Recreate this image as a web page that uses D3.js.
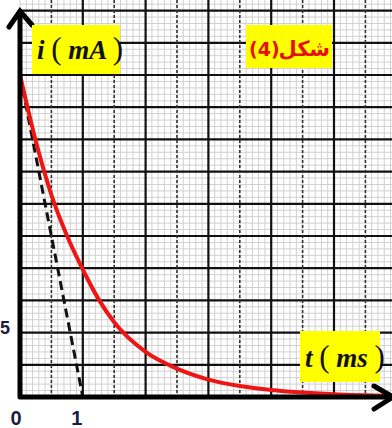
<!DOCTYPE html>
<html><head><meta charset="utf-8">
<script src="https://cdn.jsdelivr.net/npm/d3@7"></script>
<style>html,body{margin:0;padding:0;background:#fff;overflow:hidden}</style>
</head><body>
<svg id="c" width="392" height="428"></svg>
<script>
// Data
const tValues = [0, 0.25, 0.5, 0.75, 1, 1.25, 1.5, 2, 2.5, 3, 3.5, 4, 5, 5.92];
const iValues = [25, 19.9, 15.7, 12.5, 9.9, 7.6, 5.8, 3.5, 2.2, 1.35, 0.85, 0.55, 0.22, 0.1];
const tangentT = [0, 1];
const tangentI = [25, 0];
const xTickLabels = ["0", "1"];
const xTickValues = [0, 1];
const yTickLabels = ["5"];
const yTickValues = [5];

const W = 392, H = 428;
const x0 = 20, y0 = 397;
const x = d3.scaleLinear().domain([0, 1]).range([x0, 82.8]);
const y = d3.scaleLinear().domain([0, 2.5]).range([y0, 364.8]);
const tMax = x.invert(W), iMax = y.invert(0);

const svg = d3.select("#c");
const grid = svg.append("g");

// minor grid
d3.range(0, tMax, 0.1).forEach(t => {
  grid.append("line").attr("x1", x(t)).attr("x2", x(t)).attr("y1", 0).attr("y2", y0)
    .attr("stroke", "#d0d0d0").attr("stroke-width", 1);
});
d3.range(0, iMax, 0.5).forEach(v => {
  grid.append("line").attr("x1", x0).attr("x2", W).attr("y1", y(v)).attr("y2", y(v))
    .attr("stroke", "#d0d0d0").attr("stroke-width", 1);
});
// major horizontal lines every 2.5 mA
d3.range(2.5, iMax, 2.5).forEach(v => {
  grid.append("line").attr("x1", x0).attr("x2", W).attr("y1", y(v)).attr("y2", y(v))
    .attr("stroke", "#111").attr("stroke-width", 2.2);
});
// major vertical lines: solid at integer ms, dashed at half ms
d3.range(0.5, tMax, 0.5).forEach((t, k) => {
  const solid = (k % 2 === 1);
  grid.append("line").attr("x1", x(t)).attr("x2", x(t)).attr("y1", 0).attr("y2", y0)
    .attr("stroke", solid ? "#111" : "#333")
    .attr("stroke-width", solid ? 2.2 : 1.6)
    .attr("stroke-dasharray", solid ? null : "3,2");
});

// tangent dashed line
svg.append("path")
  .datum(tangentT.map((t, k) => [t, tangentI[k]]))
  .attr("d", d3.line().x(d => x(d[0])).y(d => y(d[1])))
  .attr("fill", "none").attr("stroke", "#111").attr("stroke-width", 3)
  .attr("stroke-dasharray", "9,5");

// red current curve
svg.append("path")
  .datum(tValues.map((t, k) => [t, iValues[k]]))
  .attr("d", d3.line().x(d => x(d[0])).y(d => y(d[1])).curve(d3.curveMonotoneX))
  .attr("fill", "none").attr("stroke", "#ee1515").attr("stroke-width", 4)
  .attr("stroke-linecap", "round");

// axes
svg.append("path")
  .attr("d", `M${x0},12 L${x0},${y0} L${W},${y0}`)
  .attr("fill", "none").attr("stroke", "#000").attr("stroke-width", 5)
  .attr("stroke-linejoin", "round");
// y arrowhead
svg.append("path").attr("d", `M${x0-11},27 L${x0},11 L${x0+12},25`)
  .attr("fill", "none").attr("stroke", "#000").attr("stroke-width", 5).attr("stroke-linecap", "round");
// x arrowhead
svg.append("path").attr("d", `M${W-18},${y0-11} L${W+1},${y0} L${W-18},${y0+12}`)
  .attr("fill", "none").attr("stroke", "#000").attr("stroke-width", 5).attr("stroke-linecap", "round");

// tick labels
const lblColor = "#1c1c44";
xTickValues.forEach((t, k) => {
  svg.append("text").attr("x", x(t) - (k === 0 ? 4 : 6)).attr("y", 425)
    .attr("text-anchor", "middle").attr("font-family", "Liberation Sans, Arial, sans-serif")
    .attr("font-weight", "bold").attr("font-size", 20).attr("fill", lblColor).text(xTickLabels[k]);
});
yTickValues.forEach((v, k) => {
  svg.append("text").attr("x", 0).attr("y", y(v) + 1).attr("text-anchor", "start")
    .attr("font-family", "Liberation Sans, Arial, sans-serif")
    .attr("font-weight", "bold").attr("font-size", 18).attr("fill", lblColor).text(yTickLabels[k]);
});

// labels in yellow boxes
function italicLabel(bx, by, bw, bh, tx, ty, parts) {
  svg.append("rect").attr("x", bx).attr("y", by).attr("width", bw).attr("height", bh).attr("fill", "#ffff00");
  const t = svg.append("text").attr("x", tx).attr("y", ty)
    .attr("font-family", "Liberation Serif, Times New Roman, serif").attr("fill", "#111");
  parts.forEach(p => {
    t.append("tspan").attr("font-style", p.paren ? "normal" : "italic")
      .attr("font-weight", p.paren ? "normal" : "bold")
      .attr("font-size", p.paren ? 31 : 27).text(p.s);
  });
}
italicLabel(32, 25, 88, 49, 37, 59, [
  {s: "i "}, {s: "(", paren: true}, {s: " mA "}, {s: ")", paren: true}
]);
italicLabel(300, 331, 80, 51, 305, 367, [
  {s: "t "}, {s: "(", paren: true}, {s: " ms "}, {s: ")", paren: true}
]);

// figure caption (Arabic)
svg.append("rect").attr("x", 246).attr("y", 25).attr("width", 86).attr("height", 43).attr("fill", "#ffff00");
svg.append("text").attr("x", 249).attr("y", 56).attr("text-anchor", "start")
  .attr("font-family", "DejaVu Sans, sans-serif").attr("font-weight", "bold")
  .attr("font-size", 19).attr("fill", "#e51010").text("(4)");
svg.append("text").attr("x", 330).attr("y", 56).attr("text-anchor", "end")
  .attr("font-family", "DejaVu Sans, Noto Sans, sans-serif").attr("font-weight", "bold")
  .attr("font-size", 21).attr("fill", "#e51010").text("شكل");
</script>
</body></html>
